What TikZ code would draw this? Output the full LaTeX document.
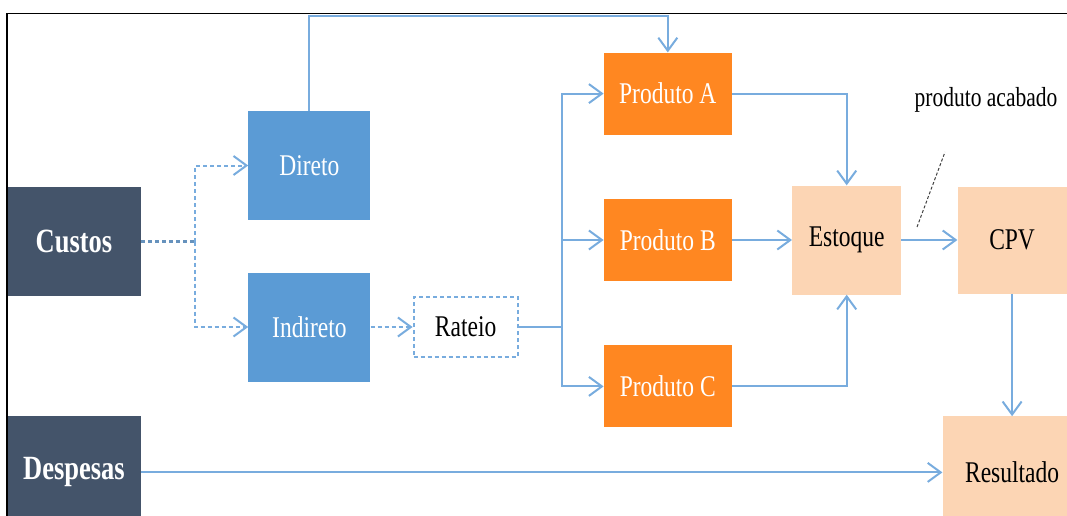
\documentclass[tikz,border=0pt]{standalone}
\usepackage{fontspec}
\setmainfont{Liberation Serif}
\usepackage{graphicx}
\usepackage{xcolor}
\definecolor{ardosia}{RGB}{68, 84, 106}
\definecolor{azulcaixa}{RGB}{91, 155, 213}
\definecolor{laranja}{RGB}{255, 135, 33}
\definecolor{pessego}{RGB}{252, 213, 180}
\definecolor{azulseta}{RGB}{120, 172, 222}
\usepackage{tikz}
\usetikzlibrary{arrows.meta, positioning, calc}

\newcommand{\alto}[1]{\scalebox{1}[1.28]{#1}}

\begin{document}
\begin{tikzpicture}[x=1pt, y=1pt, >={Straight Barb[length=13pt, width=19pt]}]

        % Definição dos estilos visuais dos blocos
        \tikzstyle{bloco} = [rectangle, inner sep=0pt, text=white, font=\fontsize{23.5}{24}\selectfont]
        \tikzstyle{escuro} = [bloco, fill=ardosia, minimum width=134pt, font=\fontsize{26.5}{27}\selectfont\bfseries]
        \tikzstyle{custo} = [bloco, fill=azulcaixa, minimum width=122pt, minimum height=109pt]
        \tikzstyle{produto} = [bloco, fill=laranja, minimum width=128pt, minimum height=82pt]
        \tikzstyle{saida} = [bloco, fill=pessego, text=black, minimum height=109pt]
        \tikzstyle{fluxo} = [->, line width=2pt, draw=azulseta]
        \tikzstyle{tracejado} = [fluxo, dash pattern=on 4pt off 3pt]

        \useasboundingbox (0,0) rectangle (1067,515);

        % Origem dos custos e despesas
        \node [escuro, minimum height=109pt] (custos) at (74,273.5) {\alto{Custos}};
        \node [escuro, minimum height=112pt, below=120pt of custos] (despesas) {\alto{Despesas}};

        % Classificação
        \node [custo, right=107pt of custos, yshift=76pt] (direto) {\alto{Direto}};
        \node [custo, right=107pt of custos, yshift=-85.5pt] (indireto) {\alto{Indireto}};
        \node [bloco, text=black, fill=white, draw=azulseta, line width=2pt, dash pattern=on 4pt off 3pt,
               minimum width=104pt, minimum height=60pt, right=42pt of indireto] (rateio) {\alto{Rateio}};

        % Produtos
        \node [produto, right=85pt of rateio, yshift=87pt] (prodB) {\alto{Produto B}};
        \node [produto, above=64pt of prodB] (prodA) {\alto{Produto A}};
        \node [produto, below=64pt of prodB] (prodC) {\alto{Produto C}};

        % Estoque, CPV e resultado
        \node [saida, minimum width=109pt, right=60pt of prodB] (estoque) {\alto{Estoque}};
        \node [saida, minimum width=109pt, minimum height=107pt, right=56pt of estoque] (cpv) {\alto{CPV}};
        \node [saida, minimum width=139pt, minimum height=112pt, below=122.5pt of cpv] (resultado) {\alto{Resultado}};

        \node [font=\fontsize{21.5}{22}\selectfont] (rotulo) at (986,415) {\alto{produto acabado}};

        % ---------------------------------------------------------
        % Ligações
        % ---------------------------------------------------------

        % 1. Custos (tracejado)
        \draw [tracejado, -, draw=azulseta!85!black, line width=2.5pt] (custos.east) -- ++(54,0) coordinate (ramo1);
        \draw [tracejado] (ramo1) |- (direto.west);
        \draw [tracejado] (ramo1) |- (indireto.west);
        \draw [tracejado] (indireto.east) -- (rateio.west);

        % 2. Rateio para os produtos
        \draw [fluxo, -] (rateio.east) -- ++(43,0) coordinate (ramo2);
        \draw [fluxo] (ramo2) |- (prodA.west);
        \draw [fluxo] (ramo2) |- (prodB.west);
        \draw [fluxo] (ramo2) |- (prodC.west);

        % 3. Direto vai ao produto pelo alto
        \coordinate (topo) at (0,499);
        \draw [fluxo] (direto.north) |- (prodA.north |- topo) -- (prodA.north);

        % 4. Produtos para estoque
        \draw [fluxo] (prodA.east) -| (estoque.north);
        \draw [fluxo] (prodB.east) -- (estoque.west);
        \draw [fluxo] (prodC.east) -| (estoque.south);

        % 5. Estoque, CPV, resultado
        \draw [fluxo] (estoque.east) -- (cpv.west);
        \draw [fluxo] (cpv.south) -- (resultado.north);
        \draw [fluxo] (despesas.east) -- (resultado.west);

        % Traço do rótulo
        \coordinate (traco1) at (917,288);
        \coordinate (traco2) at (945,363);
        \draw [dash pattern=on 3pt off 2pt, line width=1pt, black!75] (traco1) -- (traco2);

        % Moldura
        \draw [line width=1.5pt] (7,-10) -- (7,501.5) -- (1080,501.5);
    \end{tikzpicture}
\end{document}
